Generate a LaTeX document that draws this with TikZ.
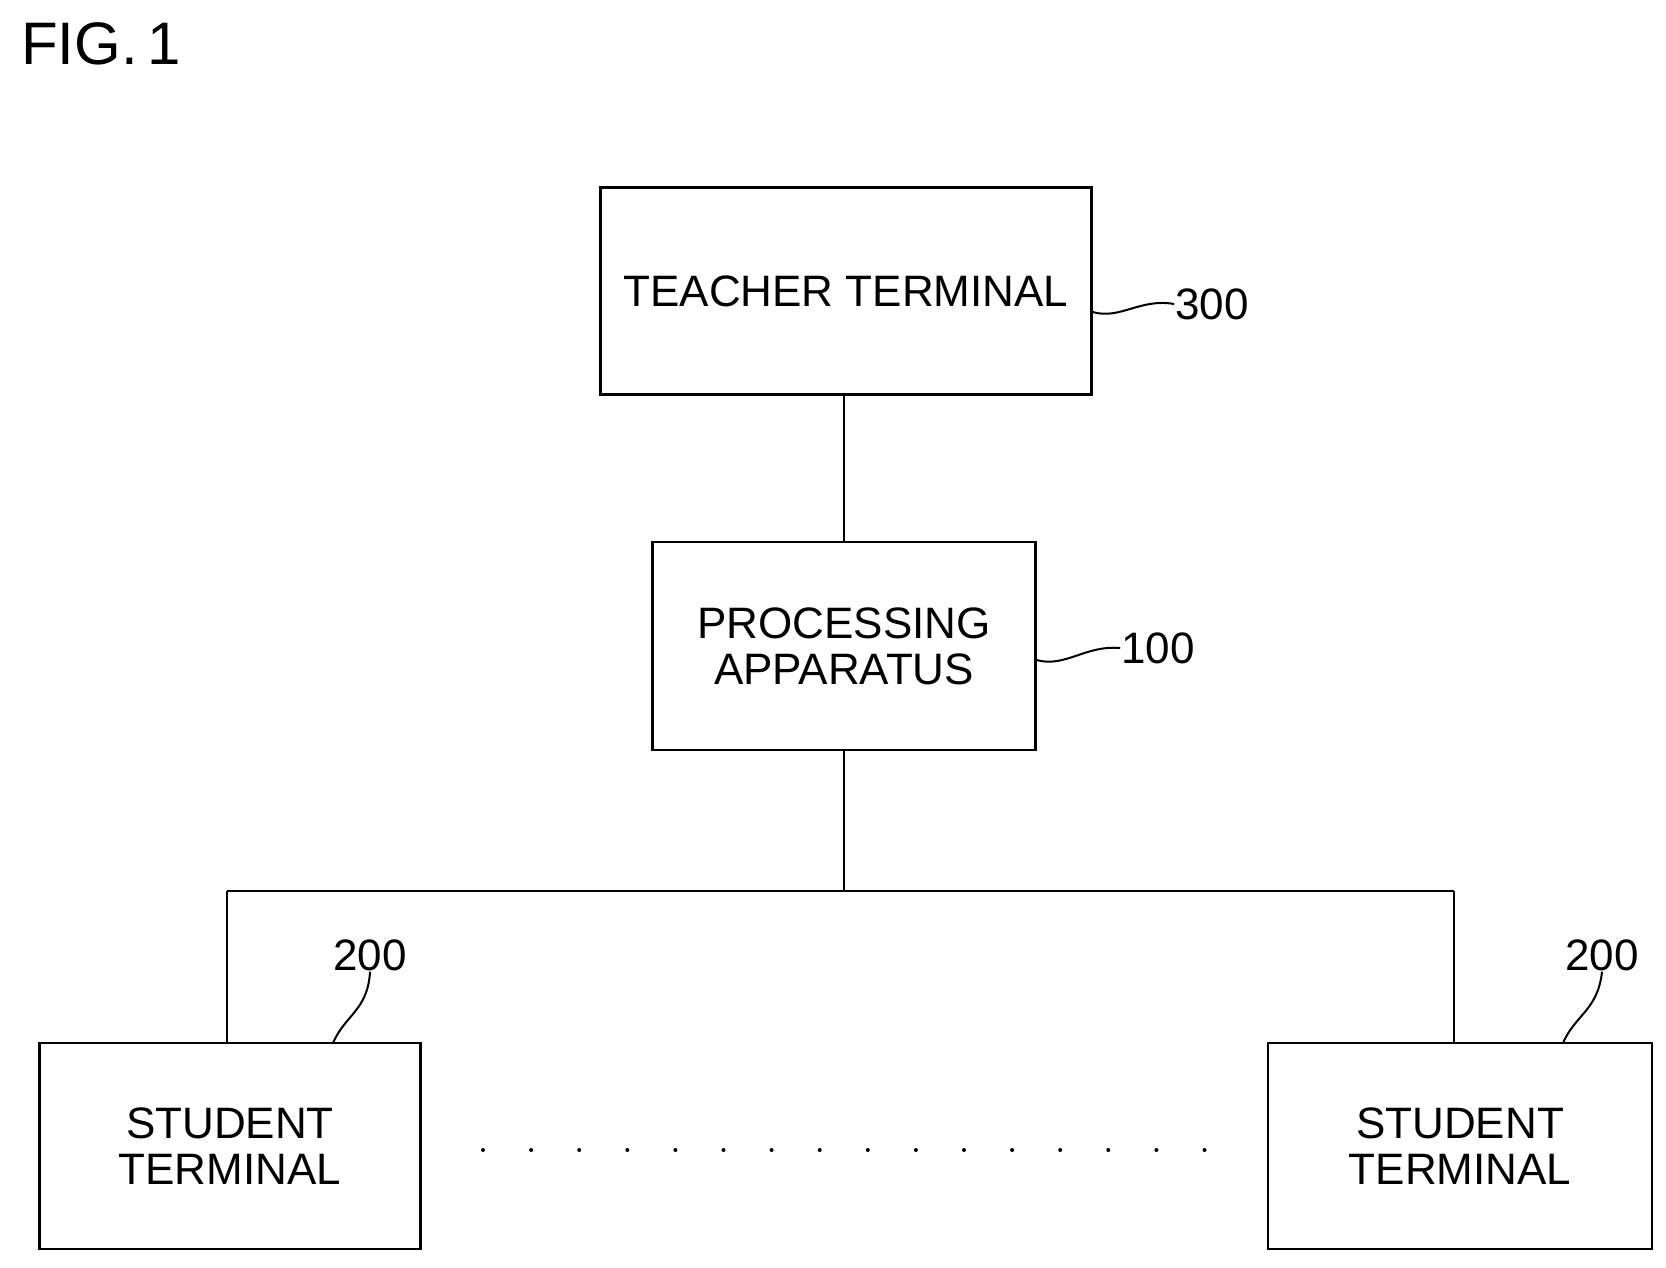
\documentclass[tikz,border=0pt]{standalone}
\usepackage{fontspec}
\setmainfont{Liberation Sans}
\usetikzlibrary{positioning}

\tikzset{
    box/.style={draw, line width=2.2pt, align=center, inner sep=0pt,
        font=\fontsize{44}{48}\selectfont},
    num/.style={inner sep=0pt, font=\fontsize{44}{48}\selectfont},
    lead/.style={line width=2pt},
}

\begin{document}
\begin{tikzpicture}[x=1pt, y=-1pt, line width=2.2pt]
    \useasboundingbox (0,0) rectangle (1666,1267);
    \node[inner sep=0pt, anchor=north west, font=\fontsize{60}{64}\selectfont] (fig) at (20,22) {FIG.\,1};
    % boxes
    \node[box, minimum width=491pt, minimum height=207pt] (teacher) at (846,291) {TEACHER TERMINAL};
    \node[box, minimum width=383pt, minimum height=208pt] (proc) at (844,646) {PROCESSING\\[-2pt]APPARATUS};
    \node[box, minimum width=381pt, minimum height=206pt] (stuL) at (230,1146) {STUDENT\\[-2pt]TERMINAL};
    \node[box, minimum width=384pt, minimum height=206pt] (stuR) at (1460,1146) {STUDENT\\[-2pt]TERMINAL};
    % reference numerals
    \node[num] (n300) at (1212,304) {300};
    \node[num] (n100) at (1158,648) {100};
    \node[num] (n200L) at (370,955) {200};
    \node[num] (n200R) at (1602,955) {200};
    % connections
    \coordinate (bus) at (proc.south |- 0,891);
    \draw (proc.north |- teacher.south) -- (proc.north);
    \draw (proc.south) -- (bus);
    \draw (227,891) -- (1454,891);
    \draw (227,891) -- (227,1043);
    \draw (1454,891) -- (1454,1043);
    % leaders
    \draw[lead] (teacher.east |- 0,312) .. controls (1120,320) and (1140,298) .. (n300.west);
    \draw[lead] (proc.east |- 0,660) .. controls (1065,668) and (1085,645) .. (n100.west);
    \draw[lead] (333,1043) .. controls (345,1015) and (368,1010) .. (n200L.south);
    \draw[lead] (1563,1043) .. controls (1575,1015) and (1598,1010) .. (n200R.south);
    % dots
    \foreach \i in {0,...,15}
        \fill (483+48.1*\i,1150) circle (2pt);
\end{tikzpicture}
\end{document}
